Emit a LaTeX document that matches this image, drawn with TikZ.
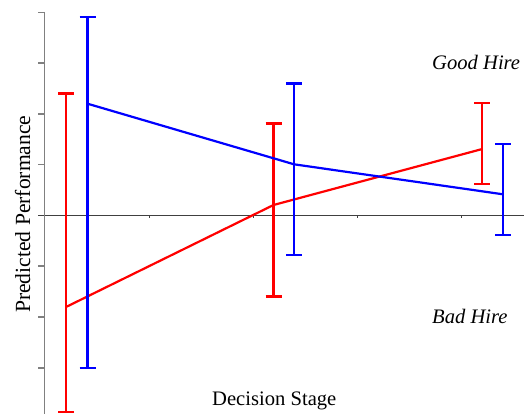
\documentclass[tikz,border=0pt]{standalone}
\usepackage{fontspec}
\setmainfont{Liberation Serif}
\begin{document}
\begin{tikzpicture}[x=1pt,y=-1pt,
  vaxis/.style={draw=black!50,line width=1.5pt},
  haxis/.style={draw=black!75,line width=1.1pt},
  ytick/.style={draw=black!50,line width=1.2pt},
  xtick/.style={draw=black!75,line width=0.8pt},
  redline/.style={draw=red,line width=2.2pt},
  blueline/.style={draw=blue,line width=2.2pt},
  lab/.style={inner sep=0pt,font=\fontsize{20.6}{24}\selectfont},
  ylab/.style={inner sep=0pt,font=\fontsize{21.6}{25}\selectfont}]
\useasboundingbox (0,0) rectangle (527,414);
% axes
\coordinate (ytop) at (44.5,12);
\coordinate (ybot) at (44.5,414);
\coordinate (xl) at (38,215.5);
\coordinate (xr) at (524,215.5);
\draw[haxis] (xl) -- (xr);
\draw[vaxis] (ytop) -- (ybot);
\foreach \y in {12.3,63,114,164.5,266,317,368}
  \draw[ytick] (38,\y) -- (44.5,\y);
\foreach \x in {149,253,357,461}
  \draw[xtick] (\x,215.5) -- (\x,218);
% data points
\coordinate (r1t) at (66,93.5);  \coordinate (r1m) at (66,307);  \coordinate (r1b) at (66,412);
\coordinate (b1t) at (87.5,17.3); \coordinate (b1m) at (87.5,103.7); \coordinate (b1b) at (87.5,367.7);
\coordinate (r2t) at (273.5,123.5); \coordinate (r2m) at (273.5,205); \coordinate (r2b) at (273.5,296.5);
\coordinate (b2t) at (294,83.5); \coordinate (b2m) at (294,164.3); \coordinate (b2b) at (294,255.3);
\coordinate (r3t) at (482.3,103.3); \coordinate (r3m) at (482.3,149); \coordinate (r3b) at (482.3,184.3);
\coordinate (b3t) at (503,144.3); \coordinate (b3m) at (503,194.3); \coordinate (b3b) at (503,235);
% red series
\draw[redline] (r1m) -- (r2m) -- (r3m);
\foreach \p in {r1,r2,r3}{
  \draw[redline] (\p t) -- (\p b);
  \draw[redline] ([xshift=-8pt]\p t) -- ([xshift=8pt]\p t);
  \draw[redline] ([xshift=-8pt]\p b) -- ([xshift=8pt]\p b);
}
% blue series
\draw[blueline] (b1m) -- (b2m) -- (b3m);
\foreach \p in {b1,b2,b3}{
  \draw[blueline] (\p t) -- (\p b);
  \draw[blueline] ([xshift=-8pt]\p t) -- ([xshift=8pt]\p t);
  \draw[blueline] ([xshift=-8pt]\p b) -- ([xshift=8pt]\p b);
}
% labels
\node[lab,anchor=base west] (good) at (432,70) {\itshape Good Hire};
\node[lab,anchor=base west] (bad) at (432,323) {\itshape Bad Hire};
\node[lab,anchor=base west] (xlab) at (212,405) {Decision Stage};
\node[ylab,anchor=base west,rotate=90] (ylabel) at (30,313) {Predicted Performance};
\end{tikzpicture}
\end{document}
